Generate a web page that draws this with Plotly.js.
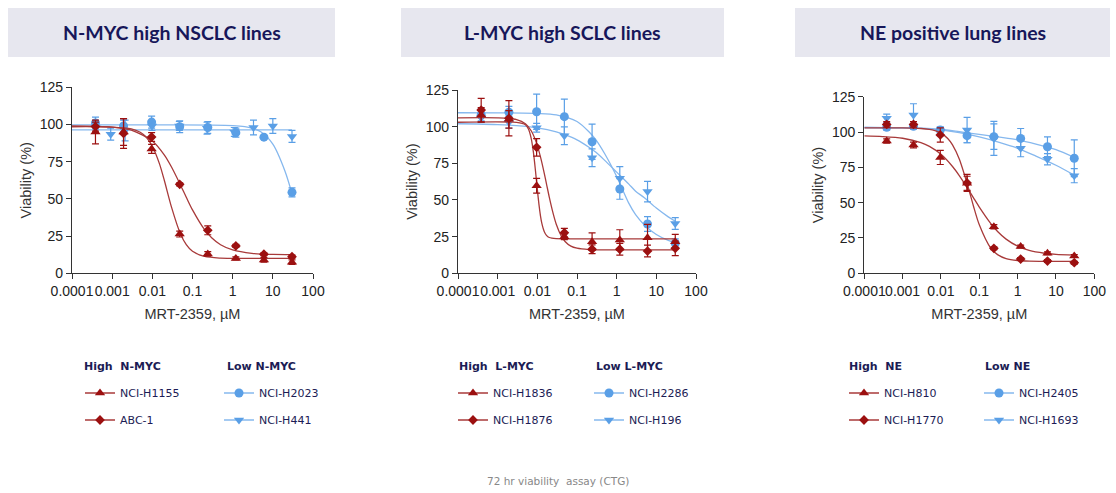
<!DOCTYPE html>
<html>
<head>
<meta charset="utf-8">
<script src="https://cdn.plot.ly/plotly-3.0.1.min.js"></script>
<style>html,body{margin:0;padding:0;background:#fff}#chart{width:1116px;height:493px}</style>
</head>
<body>
<div id="chart"></div>
<script>
// ---------------- DATA ----------------
const conc = [0.000384, 0.00192, 0.0096, 0.048, 0.24, 1.2, 6, 30];
const concH441 = [0.000384, 0.00092, 0.0021, 0.0098, 0.047, 0.23, 1.1, 3.3, 10, 30];
const xTickVals = [0.0001, 0.001, 0.01, 0.1, 1, 10, 100];
const xTickText = ['0.0001', '0.001', '0.01', '0.1', '1', '10', '100'];
const yTickVals = [0, 25, 50, 75, 100, 125];

const panelTitles = ['N-MYC high NSCLC lines', 'L-MYC high SCLC lines', 'NE positive lung lines'];
const groupTitles = [['High\u00a0\u00a0N-MYC', 'Low\u00a0N-MYC'], ['High\u00a0\u00a0L-MYC', 'Low\u00a0L-MYC'], ['High\u00a0\u00a0NE', 'Low\u00a0NE']];
const lineNames = [['NCI-H1155', 'ABC-1', 'NCI-H2023', 'NCI-H441'],
                   ['NCI-H1836', 'NCI-H1876', 'NCI-H2286', 'NCI-H196'],
                   ['NCI-H810', 'NCI-H1770', 'NCI-H2405', 'NCI-H1693']];
const footer = '72 hr viability\u00a0 assay (CTG)';

// Panel 1 points
const h1155Y = [95, 95, 83.6, 26.4, 13, 10, 9, 7.5];
const h1155E = [8, 9, 3, 2, 1.5, 1, 1.5, 1.5];
const abc1Y = [98.6, 94, 91.6, 59.8, 28.9, 18.4, 12.8, 11.2];
const abc1E = [3, 10, 3, 1, 3, 1, 1, 1];
const h2023Y = [101, 99, 101.6, 98.5, 98, 94.5, 91.5, 54.4];
const h2023E = [4, 4, 4, 4, 4, 3, 1, 3];
const h441Y = [98, 93.5, 96, 99, 99, 97.5, 95, 98, 99, 92];
const h441E = [4, 4, 7, 3, 3, 4, 3, 5, 5, 4];
// Panel 1 fitted curves
const h1155CX = [0.0001, 0.001, 0.003, 0.005, 0.007, 0.01, 0.015, 0.02, 0.03, 0.05, 0.07, 0.1, 0.2, 0.5, 2, 30];
const h1155CY = [98.5, 98.3, 97.1, 94.8, 91.6, 85.4, 73.7, 62.2, 44.5, 26.6, 19.3, 14.8, 11.3, 10.2, 10, 10];
const abc1CX = [0.0001, 0.001, 0.003, 0.01, 0.02, 0.03, 0.05, 0.07, 0.1, 0.2, 0.3, 0.5, 1, 3, 10, 30];
const abc1CY = [99.0, 98.2, 96.2, 88.9, 79.4, 71.4, 59.4, 51.1, 42.6, 29.3, 23.9, 19.2, 15.7, 13.4, 12.7, 12.6];
const h2023CX = [0.0001, 0.01, 0.3, 1, 2, 3, 5, 10, 20, 30];
const h2023CY = [99.7, 99.7, 99.6, 99.3, 98.6, 97.6, 95.1, 86.8, 68.8, 53.6];
const h441CX = [0.0001, 30];
const h441CY = [96.4, 96.4];

// Panel 2 points
const h1836Y = [108, 105, 59.7, 25, 21.6, 22.7, 24.3, 21.6];
const h1836E = [5, 6, 5, 2, 6, 7, 9, 5];
const h1876Y = [111.3, 105.7, 85.9, 27.7, 16.4, 16.4, 15.2, 17];
const h1876E = [8, 12, 6, 3, 3, 4, 4, 5];
const h2286Y = [108, 109.8, 110.2, 106.8, 89.7, 57.5, 33.6, 20.5];
const h2286E = [4, 4, 12, 12, 12, 7, 5, 3];
const h196Y = [106, 103, 99.3, 93.8, 78.8, 64.8, 55.7, 34];
const h196E = [3, 4, 3, 6, 6, 8, 7, 4];
// Panel 2 curves
const h1836CX = [0.0001, 0.003, 0.005, 0.006, 0.007, 0.008, 0.009, 0.01, 0.011, 0.012, 0.013, 0.015, 0.017, 0.02, 0.03, 0.05, 1, 30];
const h1836CY = [103, 102.9, 101.3, 98.2, 92.0, 82.1, 69.6, 57.2, 46.8, 39.2, 34.0, 28.3, 25.9, 24.4, 23.6, 23.5, 23.5, 23.5];
const h1876CX = [0.0001, 0.001, 0.003, 0.005, 0.007, 0.0096, 0.012, 0.015, 0.017, 0.02, 0.025, 0.03, 0.04, 0.05, 0.07, 0.1, 0.2, 0.5, 30];
const h1876CY = [106, 106, 104.8, 102.0, 97.2, 88.6, 79.4, 68.0, 61, 52.0, 40.9, 33.5, 25.5, 21.7, 18.5, 17.1, 16.2, 16.0, 16];
const h2286CX = [0.0001, 0.001, 0.01, 0.03, 0.1, 0.2, 0.3, 0.5, 1, 2, 3, 5, 10, 20, 30];
const h2286CY = [109.5, 109.4, 109, 108, 103.5, 96.5, 91, 81.5, 66, 48, 40, 33, 26.5, 22.5, 21];
const h196CX = [0.0001, 0.0003, 0.001, 0.003, 0.01, 0.03, 0.05, 0.1, 0.2, 0.3, 0.5, 1, 2, 3, 5, 10, 20, 30];
const h196CY = [102, 101.8, 101.4, 100.7, 99.2, 96.5, 94.5, 91, 86, 82.5, 77, 69, 61, 56, 51.5, 44.5, 38.5, 35.5];

// Panel 3 points
const h810Y = [93.6, 90.8, 82, 63.7, 33, 18.9, 14.2, 12.3];
const h810E = [1.5, 2, 5, 5, 1.5, 1, 1, 1];
const h1770Y = [105.4, 105.4, 97.9, 64, 17.7, 10.1, 8.7, 7.5];
const h1770E = [2, 2, 5, 6, 1, 1, 1, 1];
const h2405Y = [103.3, 104, 101.4, 97.4, 96.7, 95.5, 89.6, 81.4];
const h2405E = [2, 2, 2, 5, 9, 7, 7, 13];
const h1693Y = [109.7, 112, 100.5, 101.4, 95.5, 88.5, 80.7, 69.1];
const h1693E = [3, 8, 3, 9, 12, 6, 4, 5];
// Panel 3 curves
const h810CX = [0.0001, 0.0003, 0.001, 0.003, 0.005, 0.01, 0.02, 0.03, 0.05, 0.07, 0.1, 0.2, 0.3, 0.5, 1, 2, 5, 10, 30];
const h810CY = [97.25, 96.8, 95.6, 92.5, 89.8, 84.2, 75.6, 69.2, 60.0, 53.6, 46.9, 35.2, 29.6, 24.2, 19.2, 16.2, 14.2, 13.4, 12.8];
const h1770CX = [0.0001, 0.001, 0.003, 0.005, 0.007, 0.01, 0.015, 0.02, 0.03, 0.05, 0.07, 0.1, 0.2, 0.3, 0.5, 1, 2, 30];
const h1770CY = [103.0, 102.9, 102.5, 101.9, 100.95, 99.2, 95.4, 90.9, 80.9, 62.0, 47.8, 34.3, 17.7, 13.2, 10.4, 9.06, 8.66, 8.5];
const blue3CX = [0.0001, 0.001, 0.003, 0.01, 0.03, 0.1, 0.3, 1, 3, 10, 30];
const h2405CY = [103.2, 103, 102.7, 101.8, 100.2, 98.3, 96.5, 94.5, 91.5, 87.5, 82];
const h1693CY = [103.2, 103, 102.6, 101.5, 99.5, 96.5, 93, 88.5, 83, 76.5, 69.5];

// ---------------- STYLE ----------------
const RED_M = '#9c1010', RED_L = '#a83a3a', BLUE_M = '#5a9fe6', BLUE_L = '#86b8ee';
const NAVY = '#1c1c55';
const TICKFONT = {family: "'Liberation Sans', Arial, sans-serif", size: 14, color: '#222'};
const TITLEFONT = {family: "'Liberation Sans', Arial, sans-serif", size: 14.5, color: '#333'};
const SIZES = {'triangle-up': 9, 'diamond': 7.5, 'circle': 9, 'triangle-down': 9};

function pts(x, y, err, sym, color, ax) {
  return {type: 'scatter', mode: 'markers', x: x, y: y, xaxis: ax[0], yaxis: ax[1],
    error_y: {type: 'data', array: err, visible: true, color: color, thickness: 1.2, width: 3.5},
    marker: {symbol: sym, size: SIZES[sym], color: color}, showlegend: false, cliponaxis: false, hoverinfo: 'x+y'};
}
function fit(x, y, color, ax) {
  return {type: 'scatter', mode: 'lines', x: x, y: y, xaxis: ax[0], yaxis: ax[1],
    line: {shape: 'spline', smoothing: 0.8, color: color, width: 1.3}, showlegend: false, hoverinfo: 'skip'};
}
function leg(name, sym, mcolor, lcolor, legendId, ax) {
  return {type: 'scatter', mode: 'lines+markers', x: [null], y: [null], xaxis: ax[0], yaxis: ax[1],
    name: name, legend: legendId, legendgroup: name, showlegend: true,
    marker: {symbol: sym, size: SIZES[sym], color: mcolor}, line: {color: lcolor, width: 1.3}};
}

const AX = [['x', 'y'], ['x2', 'y2'], ['x3', 'y3']];
const traces = [
  // panel 1
  fit(h2023CX, h2023CY, BLUE_L, AX[0]), fit(h441CX, h441CY, BLUE_L, AX[0]),
  pts(conc, h2023Y, h2023E, 'circle', BLUE_M, AX[0]), pts(concH441, h441Y, h441E, 'triangle-down', BLUE_M, AX[0]),
  fit(h1155CX, h1155CY, RED_L, AX[0]), fit(abc1CX, abc1CY, RED_L, AX[0]),
  pts(conc, h1155Y, h1155E, 'triangle-up', RED_M, AX[0]), pts(conc, abc1Y, abc1E, 'diamond', RED_M, AX[0]),
  // panel 2
  fit(h2286CX, h2286CY, BLUE_L, AX[1]), fit(h196CX, h196CY, BLUE_L, AX[1]),
  pts(conc, h2286Y, h2286E, 'circle', BLUE_M, AX[1]), pts(conc, h196Y, h196E, 'triangle-down', BLUE_M, AX[1]),
  fit(h1836CX, h1836CY, RED_L, AX[1]), fit(h1876CX, h1876CY, RED_L, AX[1]),
  pts(conc, h1836Y, h1836E, 'triangle-up', RED_M, AX[1]), pts(conc, h1876Y, h1876E, 'diamond', RED_M, AX[1]),
  // panel 3
  fit(blue3CX, h2405CY, BLUE_L, AX[2]), fit(blue3CX, h1693CY, BLUE_L, AX[2]),
  pts(conc, h2405Y, h2405E, 'circle', BLUE_M, AX[2]), pts(conc, h1693Y, h1693E, 'triangle-down', BLUE_M, AX[2]),
  fit(h810CX, h810CY, RED_L, AX[2]), fit(h1770CX, h1770CY, RED_L, AX[2]),
  pts(conc, h810Y, h810E, 'triangle-up', RED_M, AX[2]), pts(conc, h1770Y, h1770E, 'diamond', RED_M, AX[2])
];
// legend entries
const legIds = [['legend', 'legend2'], ['legend3', 'legend4'], ['legend5', 'legend6']];
for (let p = 0; p < 3; p++) {
  traces.push(leg(lineNames[p][0], 'triangle-up', RED_M, RED_L, legIds[p][0], AX[p]));
  traces.push(leg(lineNames[p][1], 'diamond', RED_M, RED_L, legIds[p][0], AX[p]));
  traces.push(leg(lineNames[p][2], 'circle', BLUE_M, BLUE_L, legIds[p][1], AX[p]));
  traces.push(leg(lineNames[p][3], 'triangle-down', BLUE_M, BLUE_L, legIds[p][1], AX[p]));
}

const W = 1116, H = 493;
const px = v => v / W, py = v => 1 - v / H;

function xax(d0, d1, anchor) {
  return {domain: [px(d0), px(d1)], anchor: anchor, type: 'log', range: [-4, 2],
    tickmode: 'array', tickvals: xTickVals, ticktext: xTickText, tickangle: 0,
    showline: true, linecolor: '#333', linewidth: 1.3, ticks: 'outside', ticklen: 5, tickwidth: 1.3, tickcolor: '#333',
    showgrid: false, zeroline: false, tickfont: TICKFONT,
    title: {text: 'MRT-2359, \u00b5M', font: TITLEFONT, standoff: 10}, automargin: false};
}
function yax(top, anchor) {
  return {domain: [py(273.3), py(top)], anchor: anchor, range: [0, 125],
    tickmode: 'array', tickvals: yTickVals, tickangle: 0,
    showline: true, linecolor: '#333', linewidth: 1.3, ticks: 'outside', ticklen: 5, tickwidth: 1.3, tickcolor: '#333',
    showgrid: false, zeroline: false, tickfont: TICKFONT,
    title: {text: 'Viability (%)', font: TITLEFONT, standoff: 4}, automargin: false};
}

function legendAt(xpx) {
  return {x: px(xpx), y: py(406.5), xanchor: 'left', yanchor: 'middle', orientation: 'v',
    traceorder: 'grouped', tracegroupgap: 8, bgcolor: 'rgba(0,0,0,0)', borderwidth: 0,
    font: {family: 'DejaVu Sans, Verdana, sans-serif', size: 11, color: NAVY}, itemclick: false, itemdoubleclick: false};
}

const boxes = [[8, 335], [401, 724], [795, 1110]];
const shapes = boxes.map(b => ({type: 'rect', xref: 'paper', yref: 'paper', x0: px(b[0]), x1: px(b[1]), y0: py(57), y1: py(8),
  fillcolor: '#e7e7ef', line: {width: 0}, layer: 'below'}));
const annotations = [];
boxes.forEach((b, i) => annotations.push({xref: 'paper', yref: 'paper', x: px((b[0] + b[1]) / 2), y: py(33), xanchor: 'center', yanchor: 'middle',
  text: '<b>' + panelTitles[i] + '</b>', showarrow: false, font: {family: 'Lato, Open Sans, sans-serif', size: 19.5, color: '#17175a'}}));
const groupX = [[82, 225], [457, 594], [847, 983]];
for (let p = 0; p < 3; p++) for (let g = 0; g < 2; g++) {
  annotations.push({xref: 'paper', yref: 'paper', x: px(groupX[p][g]), y: py(366.5), xanchor: 'left', yanchor: 'middle',
    text: '<b>' + groupTitles[p][g] + '</b>', showarrow: false, font: {family: 'DejaVu Sans, Verdana, sans-serif', size: 11, color: NAVY}});
}
annotations.push({xref: 'paper', yref: 'paper', x: 0.5, y: py(481), xanchor: 'center', yanchor: 'middle', text: footer,
  showarrow: false, font: {family: 'DejaVu Sans, Verdana, sans-serif', size: 10.5, color: '#888'}});

const layout = {
  width: W, height: H, margin: {l: 0, r: 0, t: 0, b: 0}, paper_bgcolor: '#fff', plot_bgcolor: '#fff',
  showlegend: true, hovermode: 'closest',
  xaxis: xax(72, 313, 'y'), yaxis: yax(87.3, 'x'),
  xaxis2: xax(458, 696, 'y2'), yaxis2: yax(90, 'x2'),
  xaxis3: xax(864.3, 1094.3, 'y3'), yaxis3: yax(96.7, 'x3'),
  legend: legendAt(80), legend2: legendAt(219), legend3: legendAt(453), legend4: legendAt(589),
  legend5: legendAt(844), legend6: legendAt(979),
  shapes: shapes, annotations: annotations
};

Plotly.newPlot('chart', traces, layout, {displayModeBar: false, staticPlot: false, responsive: false});
</script>
</body>
</html>
